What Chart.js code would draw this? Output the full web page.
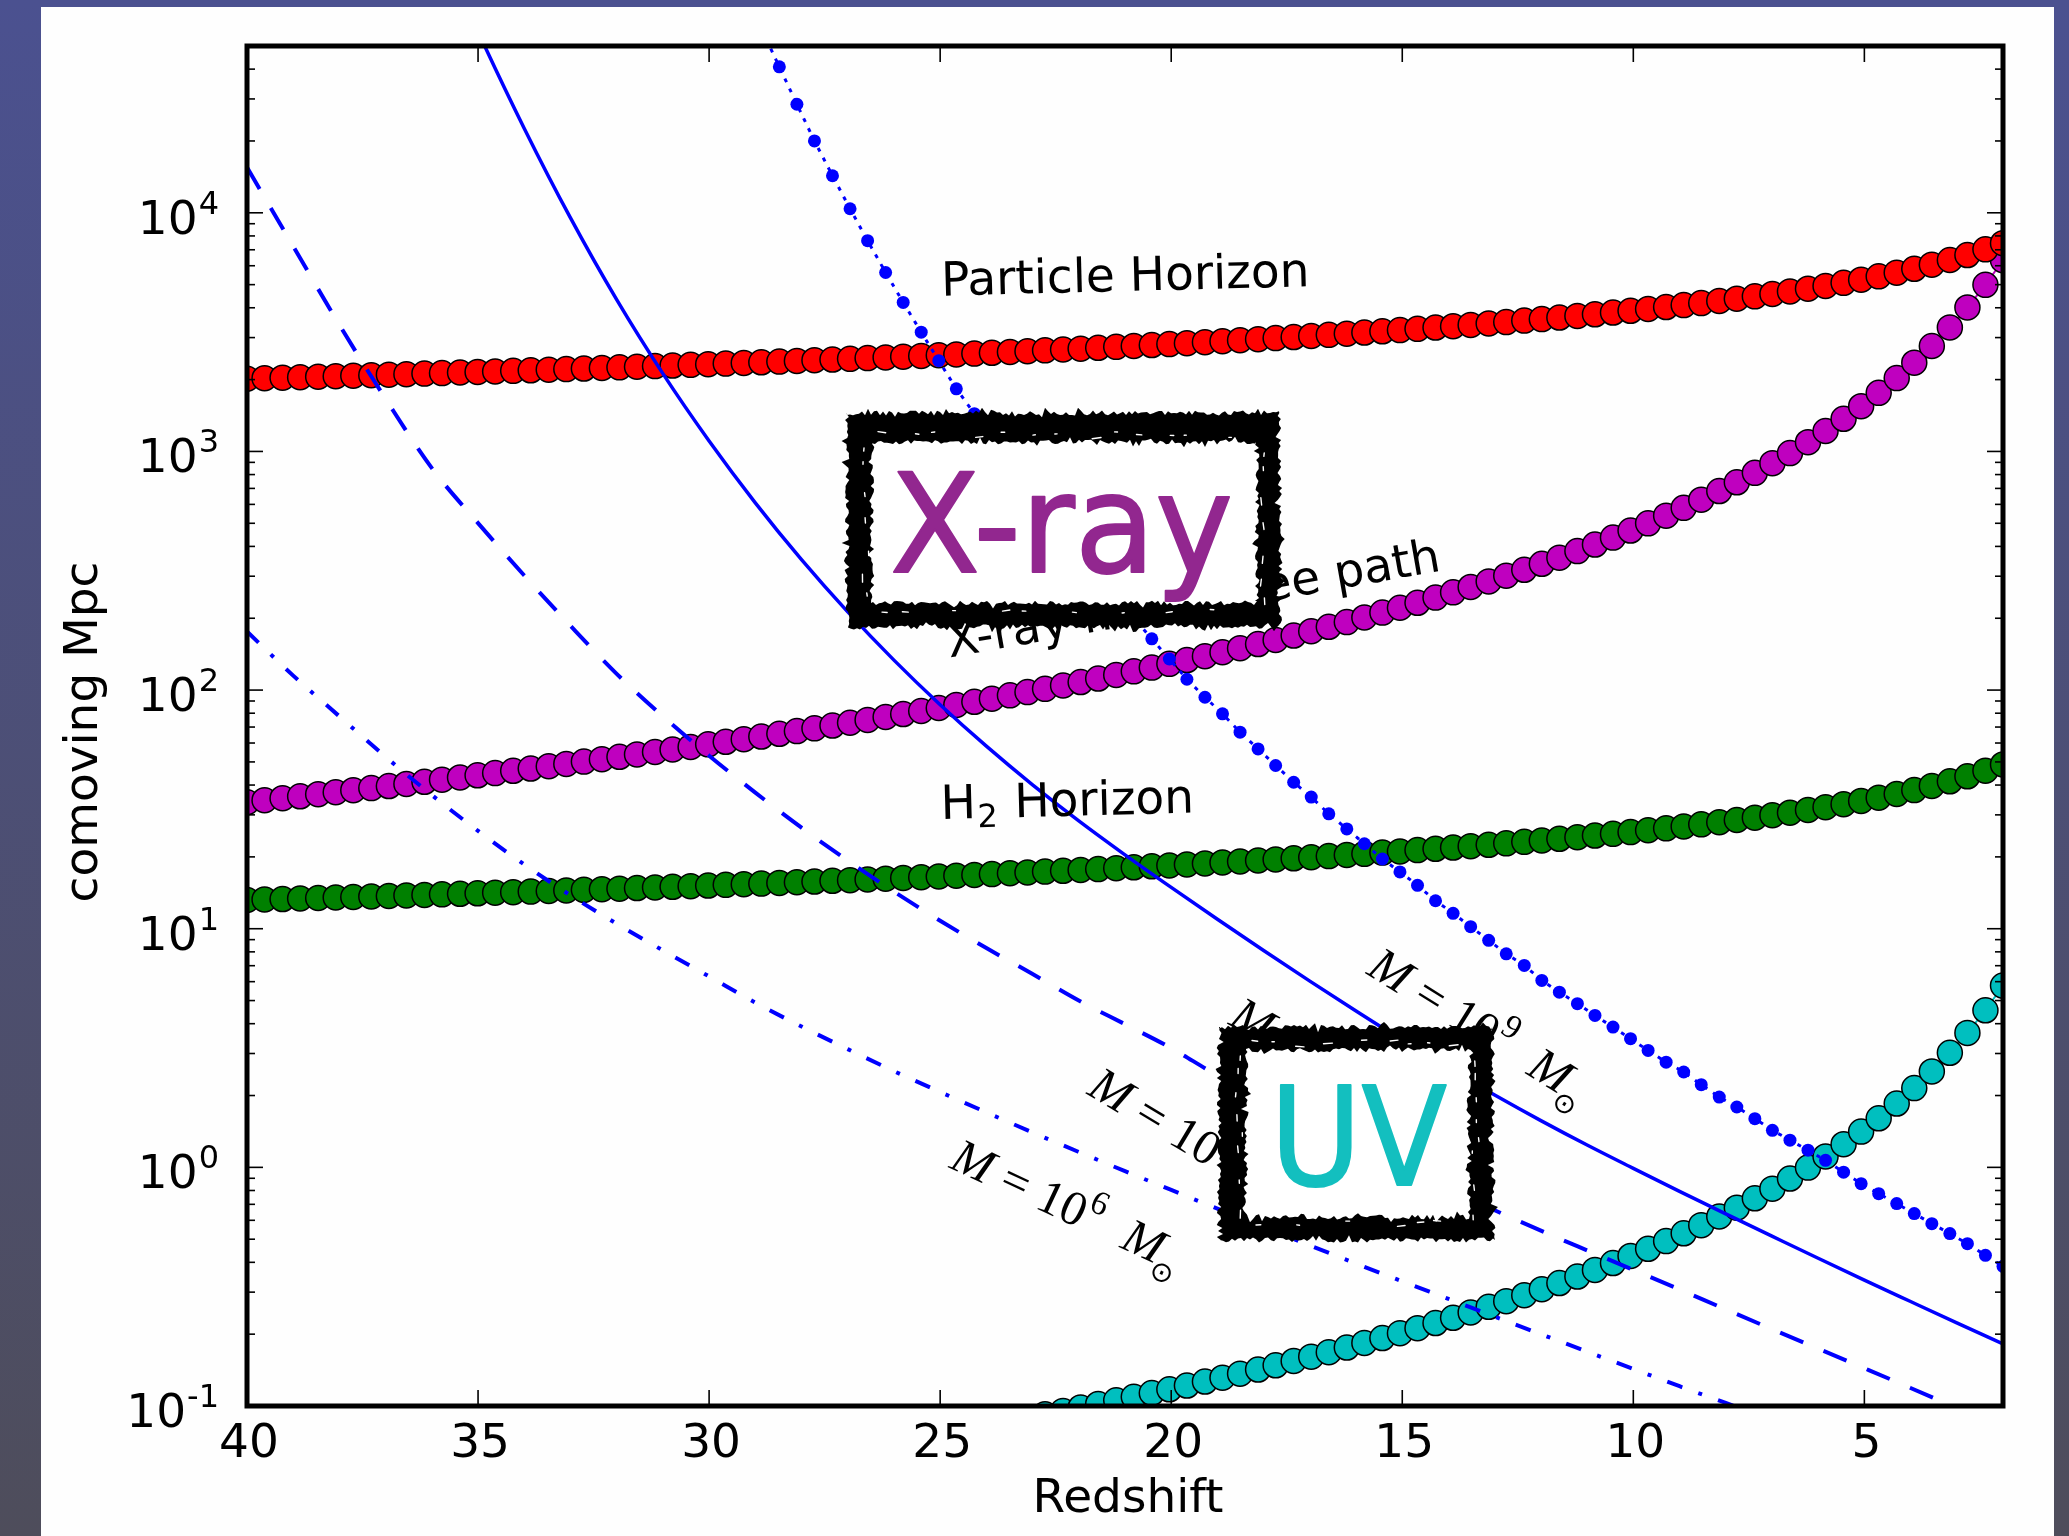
<!DOCTYPE html>
<html>
<head>
<meta charset="utf-8">
<title>Horizons vs redshift</title>
<script src="https://cdn.jsdelivr.net/npm/chart.js@4.4.1/dist/chart.umd.min.js"></script>
<style>
html, body { margin: 0; padding: 0; background: #4d5186; }
canvas { display: block; }
</style>
</head>
<body>
<canvas id="chart" width="2069" height="1536"></canvas>
<script>

// redshift grid shared by the marker series
var redshift = [
	40.00, 39.62, 39.23, 38.85, 38.46, 38.08, 37.70, 37.31, 36.93, 36.55,
	36.16, 35.78, 35.39, 35.01, 34.63, 34.24, 33.86, 33.47, 33.09, 32.71,
	32.32, 31.94, 31.56, 31.17, 30.79, 30.40, 30.02, 29.64, 29.25, 28.87,
	28.48, 28.10, 27.72, 27.33, 26.95, 26.57, 26.18, 25.80, 25.41, 25.03,
	24.65, 24.26, 23.88, 23.49, 23.11, 22.73, 22.34, 21.96, 21.58, 21.19,
	20.81, 20.42, 20.04, 19.66, 19.27, 18.89, 18.51, 18.12, 17.74, 17.35,
	16.97, 16.59, 16.20, 15.82, 15.43, 15.05, 14.67, 14.28, 13.90, 13.52,
	13.13, 12.75, 12.36, 11.98, 11.60, 11.21, 10.83, 10.44, 10.06, 9.68,
	9.29, 8.91, 8.53, 8.14, 7.76, 7.37, 6.99, 6.61, 6.22, 5.84,
	5.45, 5.07, 4.69, 4.30, 3.92, 3.54, 3.15, 2.77, 2.38, 2.00
];

// comoving Mpc
var particleHorizon = [
	2018, 2027, 2037, 2047, 2057, 2067, 2077, 2087, 2098, 2108,
	2119, 2130, 2142, 2153, 2164, 2176, 2188, 2201, 2213, 2225,
	2238, 2251, 2264, 2278, 2291, 2306, 2320, 2334, 2349, 2364,
	2380, 2395, 2411, 2427, 2444, 2461, 2478, 2496, 2514, 2532,
	2551, 2571, 2590, 2611, 2631, 2652, 2674, 2696, 2719, 2743,
	2767, 2792, 2817, 2842, 2870, 2897, 2925, 2955, 2985, 3016,
	3048, 3081, 3115, 3150, 3187, 3225, 3264, 3305, 3347, 3391,
	3437, 3484, 3535, 3586, 3640, 3697, 3756, 3820, 3885, 3953,
	4028, 4104, 4185, 4274, 4365, 4466, 4571, 4684, 4808, 4940,
	5087, 5244, 5416, 5612, 5825, 6064, 6342, 6654, 7027, 7459
];

var xrayPath = [
	33.91, 34.55, 35.22, 35.89, 36.61, 37.32, 38.06, 38.84, 39.62, 40.43,
	41.28, 42.13, 43.04, 43.96, 44.90, 45.90, 46.91, 47.97, 49.05, 50.16,
	51.34, 52.53, 53.76, 55.08, 56.40, 57.81, 59.24, 60.72, 62.29, 63.89,
	65.58, 67.31, 69.11, 71.02, 72.96, 74.99, 77.15, 79.37, 81.72, 84.12,
	86.64, 89.33, 92.08, 95.03, 98.06, 101.2, 104.6, 108.1, 111.8, 115.8,
	119.8, 124.2, 128.8, 133.6, 138.7, 144.1, 149.8, 155.9, 162.3, 169.3,
	176.5, 184.2, 192.7, 201.5, 211.2, 221.3, 232.2, 244.1, 256.8, 270.4,
	285.4, 301.4, 319.3, 338.3, 358.9, 382.3, 407.4, 435.4, 466.1, 499.6,
	538.2, 580.4, 627.6, 682.3, 742.8, 813.6, 892.9, 984.3, 1093, 1218,
	1370, 1547, 1760, 2029, 2354, 2766, 3310, 4011, 4991, 6333
];

var h2Horizon = [
	13.20, 13.26, 13.32, 13.39, 13.45, 13.52, 13.58, 13.65, 13.72, 13.79,
	13.86, 13.93, 14.01, 14.08, 14.16, 14.23, 14.31, 14.39, 14.47, 14.55,
	14.64, 14.72, 14.81, 14.90, 14.99, 15.08, 15.17, 15.27, 15.36, 15.46,
	15.56, 15.66, 15.77, 15.88, 15.98, 16.09, 16.21, 16.32, 16.44, 16.56,
	16.68, 16.81, 16.94, 17.08, 17.21, 17.35, 17.49, 17.63, 17.78, 17.94,
	18.09, 18.26, 18.42, 18.59, 18.77, 18.95, 19.13, 19.32, 19.52, 19.73,
	19.93, 20.15, 20.37, 20.60, 20.85, 21.09, 21.35, 21.62, 21.89, 22.18,
	22.48, 22.79, 23.12, 23.45, 23.81, 24.18, 24.57, 24.98, 25.41, 25.86,
	26.34, 26.84, 27.37, 27.95, 28.55, 29.21, 29.89, 30.63, 31.45, 32.31,
	33.27, 34.30, 35.42, 36.70, 38.10, 39.66, 41.48, 43.52, 45.96, 48.78
];

// cyan curve, only visible below z ~ 23
var uvLength = [
	null, null, null, null, null, null, null, null, null, null,
	null, null, null, null, null, null, null, null, null, null,
	null, null, null, null, null, null, null, null, null, null,
	null, null, null, null, null, null, null, null, null, null,
	null, null, null, 0.0867, 0.0895, 0.0923, 0.0954, 0.0986, 0.1020, 0.1056,
	0.1093, 0.1133, 0.1175, 0.1218, 0.1266, 0.1314, 0.1366, 0.1422, 0.1481, 0.1544,
	0.1610, 0.1681, 0.1758, 0.1838, 0.1927, 0.2019, 0.2118, 0.2227, 0.2342, 0.2467,
	0.2604, 0.2750, 0.2913, 0.3086, 0.3275, 0.3488, 0.3717, 0.3972, 0.4252, 0.4557,
	0.4910, 0.5295, 0.5726, 0.6225, 0.6776, 0.7422, 0.8145, 0.8979, 0.9975, 1.111,
	1.250, 1.412, 1.606, 1.851, 2.148, 2.523, 3.020, 3.659, 4.553, 5.778
];

// M = 1e9 Msun (dotted, markers on the same grid)
var halo9 = [
	null, null, null, null, null, null, null, null, null, null,
	null, null, null, null, null, null, null, null, null, null,
	null, null, null, null, null, null, null, null, null, 59000,
	40900, 28500, 20000, 14300, 10400, 7640, 5620, 4210, 3160, 2400,
	1830, 1440, 1130, 893, 710, 568, 456, 368, 299, 244,
	200, 164, 135, 111, 93.3, 79.5, 66.6, 56.7, 48.3, 41.1,
	35.6, 30.3, 26.2, 22.7, 19.6, 17.3, 15.2, 13.1, 11.6, 10.2,
	8.94, 7.85, 7.02, 6.07, 5.42, 4.85, 4.33, 3.87, 3.46, 3.09,
	2.76, 2.51, 2.22, 1.97, 1.79, 1.60, 1.43, 1.30, 1.18, 1.07,
	0.955, 0.854, 0.776, 0.705, 0.640, 0.581, 0.528, 0.479, 0.428, 0.385
];

// M = 1e8 Msun (solid)
var zHalo8 = [36, 35, 34, 33, 32, 31, 30, 29, 28, 27, 26, 25, 24, 23, 22, 21, 20, 19, 18,
	17, 16, 15, 14, 13, 12, 11, 10, 9, 8, 7, 6, 5, 4, 3, 2];
var halo8 = [155000, 57350, 22570, 9517, 4325, 2118, 1106, 609, 352, 212.6, 133.5, 86.8, 58.2, 40.1, 28.3, 20.4, 14.9, 10.96, 8.11,
	6.03, 4.52, 3.41, 2.60, 2.01, 1.57, 1.24, 0.990, 0.793, 0.638, 0.515, 0.416, 0.337, 0.274, 0.223, 0.182];

// M = 1e7 Msun (dashed)
var zHalo7 = [40, 39, 38, 37, 36, 35, 34, 33, 32, 31, 30, 29, 28, 27, 26, 25, 24, 23, 22, 21,
	20, 19, 18, 17, 16, 15, 14, 13, 12, 11, 10, 9, 8, 7, 6, 5, 4, 3, 2];
var halo7 = [15500, 7240, 3390, 1660, 851, 501, 302, 186, 117, 77.6, 53.1, 37.2, 26.5, 19.3, 14.3, 10.8, 8.3, 6.46, 5.0, 3.98,
	3.16, 2.43, 1.95, 1.57, 1.26, 1.0, 0.813, 0.661, 0.543, 0.449, 0.372, 0.308, 0.254, 0.210, 0.174, 0.144, 0.119, 0.098, 0.081];

// M = 1e6 Msun (dash-dot)
var zHalo6 = [40, 39, 38, 37, 36, 35, 34, 33, 32, 31, 30, 29, 28, 27, 26, 25, 24, 23, 22, 21,
	20, 19, 18, 17, 16, 15, 14, 13, 12, 11, 10, 9, 8, 7];
var halo6 = [176, 115, 77.6, 52.5, 36.3, 25.7, 18.6, 13.8, 10.5, 8.11, 6.31, 4.90, 3.89, 3.13, 2.53, 2.07, 1.70, 1.40, 1.16, 0.964,
	0.804, 0.671, 0.562, 0.471, 0.395, 0.333, 0.281, 0.237, 0.200, 0.169, 0.143, 0.121, 0.103, 0.087];

var xTicks = [40, 35, 30, 25, 20, 15, 10, 5];
var yTickPowers = [-1, 0, 1, 2, 3, 4];

// labels placed in data coordinates
var massLabels = [
	{power: 9, z: 15.80, v: 6.5, angle: 32},
	{power: 8, z: 18.79, v: 4.0, angle: 30},
	{power: 7, z: 21.85, v: 2.04, angle: 31},
	{power: 6, z: 24.83, v: 1.0, angle: 25}
];

var FONT = '47px "DejaVu Sans"';
var BLUE = '#0000ff';

function pts(xs, ys) {
	var out = [];
	for (var i = 0; i < xs.length; i++) {
		out.push({x: xs[i], y: ys[i]});
	}
	return out;
}

function circles(values, color) {
	return {
		data: pts(redshift, values),
		borderColor: color,
		borderWidth: 2,
		pointRadius: 12.5,
		pointBackgroundColor: color,
		pointBorderColor: '#000',
		pointBorderWidth: 1.5,
		clip: 0
	};
}

// fixed, irregular jitter for the hand drawn box edges (0..1)
function grain(n) {
	var s = Math.sin(n * 127.1 + 311.7) * 43758.5453;
	return s - Math.floor(s);
}

function edgeOff(n, amp) {
	var d = (grain(n) - 0.5) * 2 * amp;
	if (grain(n + 500) > 0.86) d *= 2.2;
	return d;
}

function ringPath(ctx, x0, y0, x1, y1, amp, seed) {
	var n = seed, x, y;
	ctx.moveTo(x0, y0);
	for (x = x0; x <= x1; x += 3) ctx.lineTo(x, y0 + edgeOff(n++, amp));
	for (y = y0; y <= y1; y += 3) ctx.lineTo(x1 + edgeOff(n++, amp), y);
	for (x = x1; x >= x0; x -= 3) ctx.lineTo(x, y1 + edgeOff(n++, amp));
	for (y = y1; y >= y0; y -= 3) ctx.lineTo(x0 + edgeOff(n++, amp), y);
	ctx.closePath();
}

function fleck(ctx, x, y, len, ang) {
	ctx.beginPath();
	ctx.moveTo(x, y);
	ctx.lineTo(x + len * Math.cos(ang), y + len * Math.sin(ang));
	ctx.stroke();
}

function sketchBox(ctx, o, i, seed) {
	var k = seed, t;
	ctx.save();
	ctx.beginPath();
	ringPath(ctx, o[0], o[1], o[2], o[3], 2.5, seed);
	ctx.fillStyle = '#000';
	ctx.fill();
	ctx.beginPath();
	ringPath(ctx, i[0], i[1], i[2], i[3], 2.5, seed + 1000);
	ctx.fillStyle = '#fff';
	ctx.fill();
	// a few white scratches in the ink, near the inner edge
	ctx.strokeStyle = '#fff';
	ctx.lineWidth = 1.4;
	ctx.lineCap = 'round';
	for (t = i[0] + 6; t < i[2] - 6; t += 12 + 34 * grain(k++)) {
		fleck(ctx, t, i[1] - 3 - 8 * grain(k++), 2 + 7 * grain(k++), 0.3 * (grain(k++) - 0.5));
	}
	for (t = i[0] + 10; t < i[2] - 6; t += 14 + 40 * grain(k++)) {
		fleck(ctx, t, i[3] + 3 + 7 * grain(k++), 2 + 6 * grain(k++), 0.3 * (grain(k++) - 0.5));
	}
	for (t = i[1] + 6; t < i[3] - 6; t += 10 + 28 * grain(k++)) {
		fleck(ctx, i[0] - 3 - 8 * grain(k++), t, 2 + 6 * grain(k++), 1.57 + 0.3 * (grain(k++) - 0.5));
		fleck(ctx, i[2] + 3 + 8 * grain(k++), t + 5, 2 + 6 * grain(k++), 1.57 + 0.3 * (grain(k++) - 0.5));
	}
	ctx.restore();
}

function boxText(ctx, text, color, left, right, baseline) {
	ctx.save();
	ctx.textAlign = 'left';
	ctx.textBaseline = 'alphabetic';
	ctx.font = '137px "DejaVu Sans"';
	ctx.fillStyle = color;
	ctx.strokeStyle = color;
	ctx.lineWidth = 2;
	ctx.lineJoin = 'round';
	var w = ctx.measureText(text).width;
	ctx.translate(left, baseline);
	ctx.scale((right - left) / w, 1);
	ctx.fillText(text, 0, 0);
	ctx.strokeText(text, 0, 0);
	ctx.restore();
}

function rotatedText(ctx, text, x, y, angle) {
	ctx.save();
	ctx.translate(x, y);
	ctx.rotate(angle * Math.PI / 180);
	ctx.font = FONT;
	ctx.fillText(text, 0, 0);
	ctx.restore();
}

function massLabel(ctx, lab, x, y) {
	var it = 'italic 49px "Liberation Serif"';
	var up = '49px "Liberation Serif"';
	var cx = 0;
	ctx.save();
	ctx.translate(x, y);
	ctx.rotate(lab.angle * Math.PI / 180);
	ctx.font = it;
	ctx.fillText('M', cx, 0);
	cx += ctx.measureText('M').width + 13;
	ctx.font = up;
	ctx.fillText('=', cx, 0);
	cx += ctx.measureText('=').width + 13;
	ctx.fillText('10', cx, 0);
	cx += ctx.measureText('10').width + 1;
	ctx.font = '34px "Liberation Serif"';
	ctx.fillText(String(lab.power), cx, -21);
	cx += ctx.measureText(String(lab.power)).width + 27;
	ctx.font = it;
	ctx.fillText('M', cx, 0);
	cx += ctx.measureText('M').width;
	ctx.font = '28px "DejaVu Sans"';
	ctx.fillText('\u2299', cx - 3, 14);
	ctx.restore();
}

function powLabel(ctx, p, right, y) {
	var es = String(p);
	ctx.font = FONT;
	var wb = ctx.measureText('10').width;
	ctx.font = '32px "DejaVu Sans"';
	var we = ctx.measureText(es).width;
	var x0 = right - we - wb - 1;
	ctx.font = FONT;
	ctx.fillText('10', x0, y + 21);
	ctx.font = '32px "DejaVu Sans"';
	ctx.fillText(es, x0 + wb + 1, y + 1);
}

function tick(ctx, x0, y0, x1, y1) {
	ctx.beginPath();
	ctx.moveTo(x0, y0);
	ctx.lineTo(x1, y1);
	ctx.stroke();
}

var decor = {
	id: 'decor',
	beforeDraw: function (chart) {
		var ctx = chart.ctx;
		var g = ctx.createLinearGradient(0, 0, 0, chart.height);
		g.addColorStop(0, '#4b5190');
		g.addColorStop(1, '#4e4d5b');
		ctx.save();
		ctx.fillStyle = g;
		ctx.fillRect(0, 0, chart.width, chart.height);
		ctx.fillStyle = '#fefefe';
		ctx.fillRect(41, 7, 2013, chart.height);
		ctx.restore();
	},
	afterDatasetsDraw: function (chart) {
		var ctx = chart.ctx, a = chart.chartArea;
		var sx = chart.scales.x, sy = chart.scales.y;
		ctx.save();
		ctx.fillStyle = '#000';
		ctx.textAlign = 'left';
		ctx.textBaseline = 'alphabetic';

		// curve labels
		rotatedText(ctx, 'Particle Horizon', sx.getPixelForValue(24.97), sy.getPixelForValue(4490), -1.5);
		rotatedText(ctx, 'X-ray mean free path', sx.getPixelForValue(24.8), sy.getPixelForValue(137), -10);

		ctx.save();
		ctx.translate(sx.getPixelForValue(24.98), sy.getPixelForValue(28.8));
		ctx.rotate(-1.5 * Math.PI / 180);
		ctx.font = FONT;
		ctx.fillText('H', 0, 0);
		var hw = ctx.measureText('H').width;
		ctx.font = '32px "DejaVu Sans"';
		ctx.fillText('2', hw + 1, 9);
		var sw = ctx.measureText('2').width;
		ctx.font = FONT;
		ctx.fillText(' Horizon', hw + sw + 3, 0);
		ctx.restore();

		massLabels.forEach(function (lab) {
			massLabel(ctx, lab, sx.getPixelForValue(lab.z), sy.getPixelForValue(lab.v));
		});

		// inward ticks
		ctx.strokeStyle = '#000';
		ctx.lineWidth = 1.6;
		xTicks.forEach(function (t) {
			var px = sx.getPixelForValue(t);
			tick(ctx, px, a.bottom, px, a.bottom - 16);
			tick(ctx, px, a.top, px, a.top + 16);
		});
		yTickPowers.forEach(function (p) {
			for (var m = 1; m <= 9; m++) {
				var v = m * Math.pow(10, p);
				if (v > sy.max * 1.0001) break;
				var py = sy.getPixelForValue(v);
				var len = m === 1 ? 16 : 8;
				tick(ctx, a.left, py, a.left + len, py);
				tick(ctx, a.right, py, a.right - len, py);
			}
		});

		// frame
		ctx.lineWidth = 5;
		ctx.strokeRect(a.left, a.top, a.right - a.left, a.bottom - a.top);

		// tick labels
		ctx.font = FONT;
		ctx.textAlign = 'center';
		xTicks.forEach(function (t) {
			ctx.fillText(String(t), sx.getPixelForValue(t) + 2, a.bottom + 51);
		});
		ctx.textAlign = 'left';
		yTickPowers.forEach(function (p) {
			powLabel(ctx, p, a.left - 28, sy.getPixelForValue(Math.pow(10, p)));
		});

		// axis titles
		ctx.font = FONT;
		ctx.textAlign = 'center';
		ctx.fillText('Redshift', (a.left + a.right) / 2 + 3, a.bottom + 106);
		ctx.save();
		ctx.translate(97, (a.top + a.bottom) / 2 + 6);
		ctx.rotate(-Math.PI / 2);
		ctx.fillText('comoving Mpc', 0, 0);
		ctx.restore();

		// hand drawn boxes laid over the plot
		sketchBox(ctx, [847, 413, 1280, 627], [872, 442, 1257, 603], 7);
		boxText(ctx, 'X-ray', '#92278f', 890, 1233, 572);
		sketchBox(ctx, [1219, 1027, 1493, 1240], [1246, 1050, 1469, 1217], 3001);
		boxText(ctx, 'UV', '#13bfbf', 1270, 1447, 1185);

		ctx.restore();
	}
};

var ctx = document.getElementById('chart');
var chart = new Chart(ctx, {
	type: 'line',
	data: {
		datasets: [
			{
				data: pts(redshift, halo9),
				borderColor: BLUE,
				borderWidth: 3,
				borderDash: [4, 7],
				pointRadius: 6.5,
				pointBackgroundColor: BLUE,
				pointBorderWidth: 0,
				clip: 0
			},
			{
				data: pts(zHalo8, halo8),
				borderColor: BLUE,
				borderWidth: 3.5,
				pointRadius: 0,
				cubicInterpolationMode: 'monotone',
				clip: 0
			},
			{
				data: pts(zHalo7, halo7),
				borderColor: BLUE,
				borderWidth: 4,
				borderDash: [25, 22],
				pointRadius: 0,
				cubicInterpolationMode: 'monotone',
				clip: 0
			},
			{
				data: pts(zHalo6, halo6),
				borderColor: BLUE,
				borderWidth: 4,
				borderDash: [16, 17, 4, 17],
				pointRadius: 0,
				cubicInterpolationMode: 'monotone',
				clip: 0
			},
			circles(particleHorizon, '#ff0000'),
			circles(xrayPath, '#bf00bf'),
			circles(h2Horizon, '#008000'),
			circles(uvLength, '#00bfbf')
		]
	},
	options: {
		responsive: false,
		devicePixelRatio: 1,
		animation: false,
		events: [],
		layout: {
			padding: {left: 247, top: 46, right: 66, bottom: 130}
		},
		plugins: {
			legend: {display: false},
			tooltip: {enabled: false}
		},
		scales: {
			x: {type: 'linear', min: 2, max: 40, reverse: true, display: false},
			y: {type: 'logarithmic', min: 0.1, max: 50000, display: false}
		}
	},
	plugins: [decor]
});

</script>
</body>
</html>
